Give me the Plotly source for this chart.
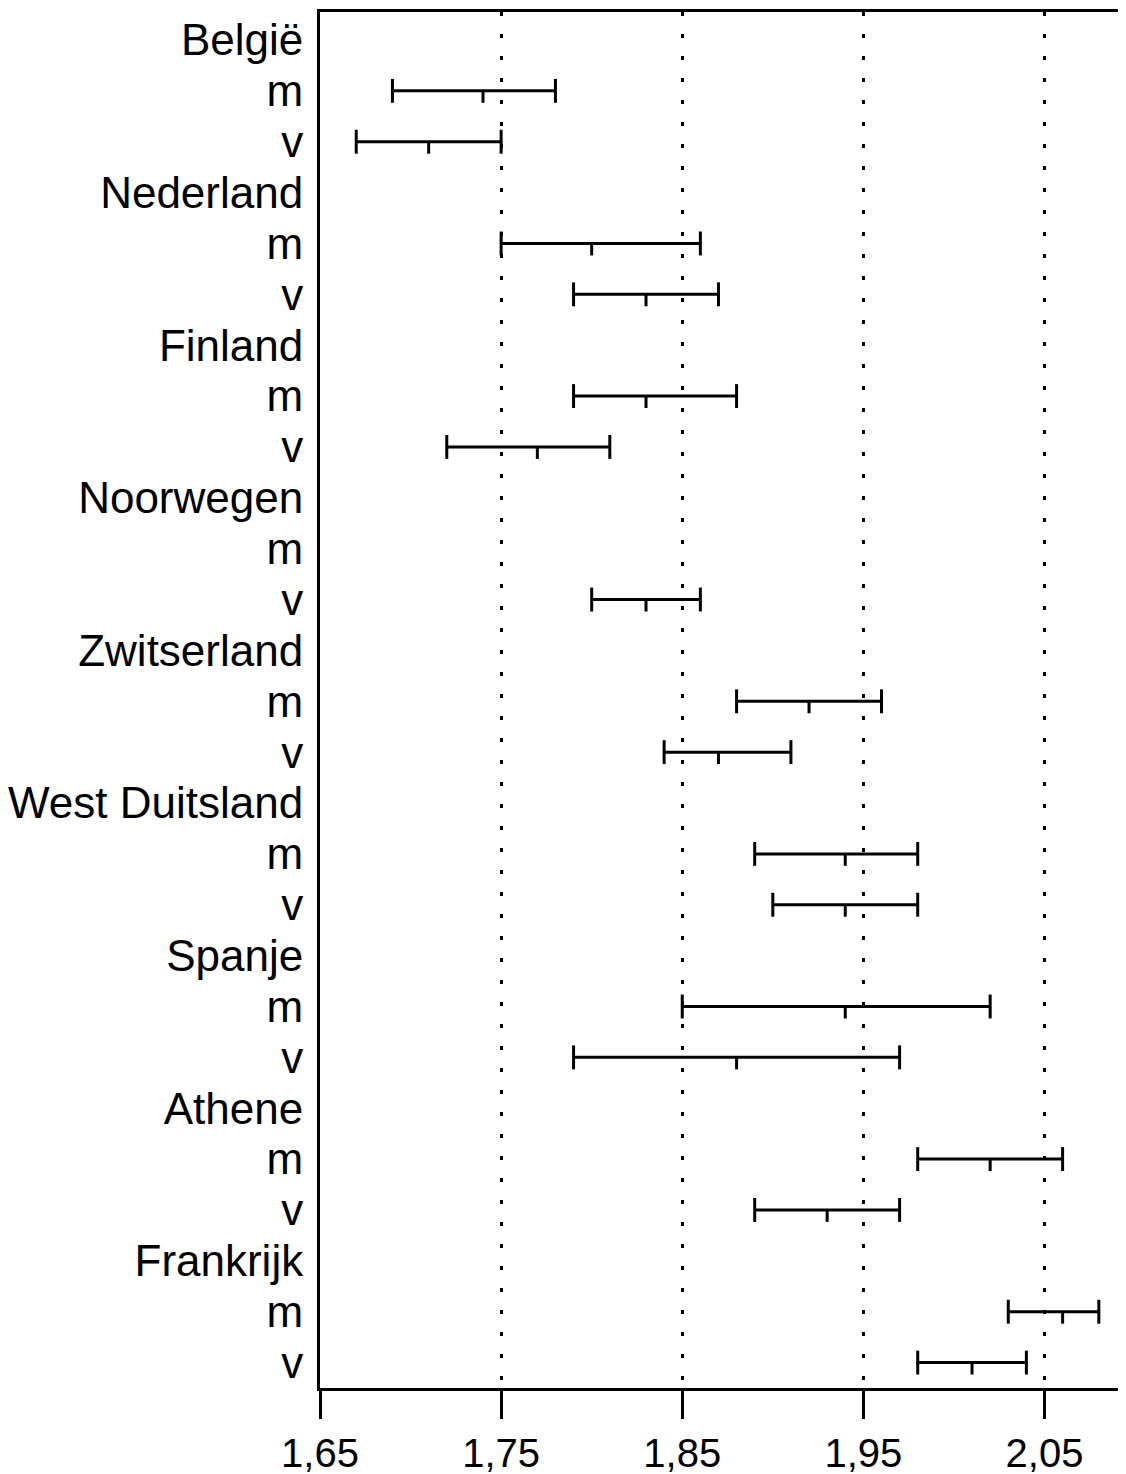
import plotly.graph_objects as go

countries = ["België", "Nederland", "Finland", "Noorwegen", "Zwitserland",
             "West Duitsland", "Spanje", "Athene", "Frankrijk"]
m_low = [1.69, 1.75, 1.79, None, 1.88, 1.89, 1.85, 1.98, 2.03]
m_mid = [1.74, 1.80, 1.83, None, 1.92, 1.94, 1.94, 2.02, 2.06]
m_high = [1.78, 1.86, 1.88, None, 1.96, 1.98, 2.02, 2.06, 2.08]
v_low = [1.67, 1.79, 1.72, 1.80, 1.84, 1.90, 1.79, 1.89, 1.98]
v_mid = [1.71, 1.83, 1.77, 1.83, 1.87, 1.94, 1.88, 1.93, 2.01]
v_high = [1.75, 1.87, 1.81, 1.86, 1.91, 1.98, 1.97, 1.97, 2.04]
x_ticks = [1.65, 1.75, 1.85, 1.95, 2.05]
x_tick_labels = ["1,65", "1,75", "1,85", "1,95", "2,05"]

row_labels = []
rows = []  # (row index, low, mid, high)
for i, c in enumerate(countries):
    base = len(row_labels)
    row_labels += [c, "m", "v"]
    rows.append((base + 1, m_low[i], m_mid[i], m_high[i]))
    rows.append((base + 2, v_low[i], v_mid[i], v_high[i]))

cap = 0.235
hx, hy, cx, cy, tx, ty = [], [], [], [], [], []
for r, lo, mid, hi in rows:
    if lo is None:
        continue
    hx += [lo, hi, None]
    hy += [r, r, None]
    cx += [lo, lo, None, hi, hi, None]
    cy += [r - cap, r + cap, None, r - cap, r + cap, None]
    tx += [mid, mid, None]
    ty += [r, r + cap, None]

fig = go.Figure()
for xs, ys in [(hx, hy), (cx, cy), (tx, ty)]:
    fig.add_trace(go.Scatter(x=xs, y=ys, mode="lines",
                             line=dict(color="black", width=3),
                             showlegend=False, hoverinfo="skip"))

font = "Liberation Sans, Arial, Helvetica, sans-serif"
fig.update_layout(
    width=1118, height=1466,
    margin=dict(l=312, r=0, t=4, b=86),
    paper_bgcolor="white", plot_bgcolor="white",
    font=dict(family=font, color="black"),
    xaxis=dict(range=[1.65, 2.095], tickvals=x_ticks, ticktext=x_tick_labels,
               ticks="outside", ticklen=28, tickwidth=3, tickcolor="black",
               showline=True, linewidth=3, linecolor="black", mirror=True,
               showgrid=True, gridcolor="black", gridwidth=3, griddash="4px,18px",
               zeroline=False, tickfont=dict(size=40), ticklabelstandoff=0,
               automargin=False),
    yaxis=dict(range=[26.5, -0.55], tickvals=list(range(len(row_labels))),
               ticktext=row_labels, ticks="", showgrid=False, zeroline=False,
               showline=True, linewidth=3, linecolor="black",
               tickfont=dict(size=44), ticklabelstandoff=5, automargin=False),
)
fig.write_html("out.html")
